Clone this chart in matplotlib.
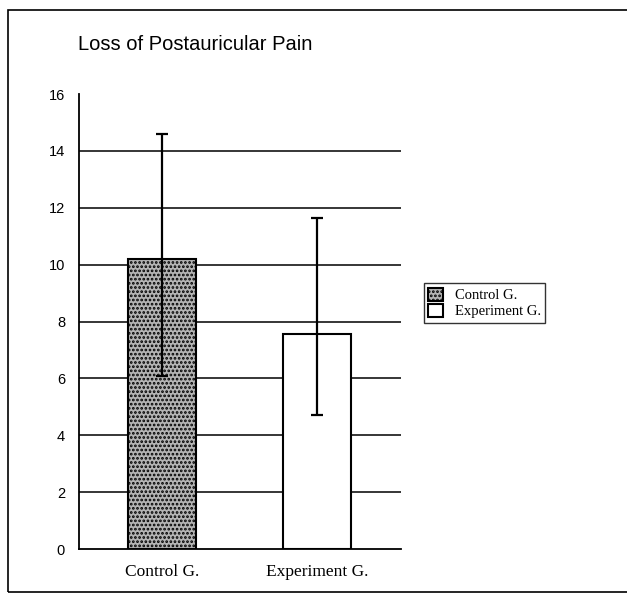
import numpy as np
import matplotlib.pyplot as plt
from matplotlib.patches import Rectangle

# data
groups = ["Control G.", "Experiment G."]
means = [10.2, 7.55]
err_low = [4.1, 2.85]
err_high = [4.4, 4.1]
yticks = [0, 2, 4, 6, 8, 10, 12, 14, 16]

plt.rcParams["hatch.linewidth"] = 1.3
plt.rcParams["hatch.color"] = "#2a2a2a"

fig = plt.figure(figsize=(6.27, 5.95), dpi=100)
ax = fig.add_axes([0.126, 0.0773, 0.5136, 0.7647])

x = np.arange(len(groups))
bars = ax.bar(x, means, width=0.44, edgecolor="black", linewidth=1.5,
              yerr=[err_low, err_high], capsize=4.5,
              error_kw=dict(ecolor="black", elinewidth=1.6, capthick=1.6),
              zorder=3)
bars[0].set_facecolor("#b4b4b4")
bars[0].set_hatch("....")
bars[1].set_facecolor("white")

ax.set_xlim(-0.535, 1.54)
ax.set_ylim(0, 16)
ax.set_yticks(yticks)
ax.set_yticklabels([str(t) for t in yticks], family="Liberation Sans", fontsize=10.5)
ax.set_xticks(x)
ax.set_xticklabels(groups, family="Liberation Serif", fontsize=12.5)
ax.tick_params(length=0, pad=10)
ax.tick_params(axis="x", pad=11)
for t in yticks[1:-1]:
    ax.axhline(t, color="black", linewidth=1.1, zorder=1)
for s in ["top", "right"]:
    ax.spines[s].set_visible(False)
ax.spines["left"].set_linewidth(1.3)
ax.spines["bottom"].set_linewidth(1.3)

fig.text(78 / 627, 1 - 44 / 595, "Loss of Postauricular Pain",
         family="Liberation Sans", fontsize=14.5, va="center", ha="left")

leg = ax.legend(bars, groups, loc="center left",
                bbox_to_anchor=(424 / 627, 1 - 303 / 595),
                bbox_transform=fig.transFigure,
                prop=dict(family="Liberation Serif", size=10.5),
                fancybox=False, frameon=True, edgecolor="black",
                handlelength=1.0, handleheight=1.0, handletextpad=0.8,
                borderpad=0.3, labelspacing=0.1, borderaxespad=0)
leg.get_frame().set_linewidth(1.0)

# outer frame of the scanned figure
fig.patches.append(Rectangle((8 / 627, 1 - 592 / 595), 1.2, (592 - 10) / 595,
                             transform=fig.transFigure, fill=False,
                             edgecolor="black", linewidth=1.2))

fig.savefig("out.png", dpi=100)
